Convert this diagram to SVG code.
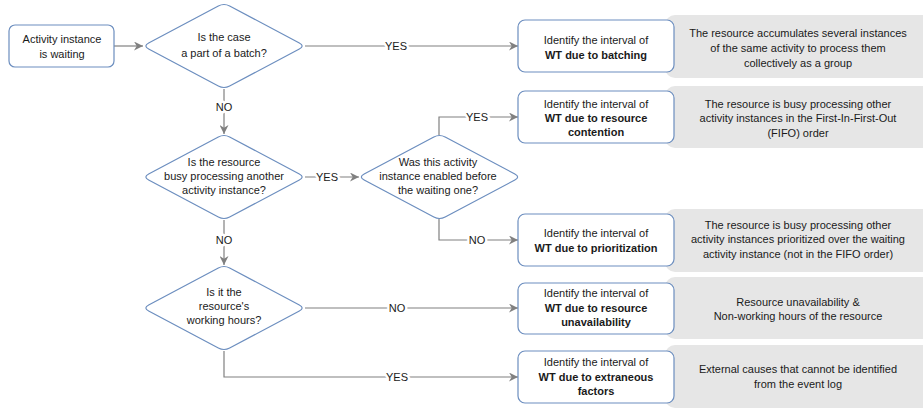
<svg xmlns="http://www.w3.org/2000/svg" xmlns:xlink="http://www.w3.org/1999/xlink" width="923" height="412" viewBox="0 0 923 412">
<style>
text{font-family:"Liberation Sans",Arial,Helvetica,sans-serif;font-size:11px;fill:#1a1a1a;text-anchor:middle}
.b{font-weight:bold}
.node{fill:#ffffff;stroke:#6c8ebf;stroke-width:1.2}
.note{fill:#e6e6e6;stroke:none}
.edge{fill:none;stroke:#808080;stroke-width:1.2}
.lbl{paint-order:stroke;stroke:#ffffff;stroke-width:5px;stroke-linejoin:round}
</style>
<defs>
<path id="dia" d="M -75.33,-3.01 L -5.67,-39.99 Q 0,-43 5.67,-39.99 L 75.33,-3.01 Q 81,0 75.33,3.01 L 5.67,39.99 Q 0,43 -5.67,39.99 L -75.33,3.01 Q -81,0 -75.33,-3.01 Z"/>
<marker id="arr" viewBox="0 0 10 10" refX="10" refY="5" markerWidth="9" markerHeight="9" markerUnits="userSpaceOnUse" orient="auto">
<path d="M0,0 L10,5 L0,10 L3,5 Z" fill="#808080"/>
</marker>
</defs>
<g id="notes">
<g id="note1"><rect class="note" x="665" y="15" width="268" height="63" rx="10"/>
<text x="798" y="37">The resource accumulates several instances</text><text x="798" y="52">of the same activity to process them</text><text x="798" y="67">collectively as a group</text></g>
<g id="note2"><rect class="note" x="665" y="86" width="268" height="62" rx="10"/>
<text x="798" y="108">The resource is busy processing other</text><text x="798" y="122">activity instances in the First-In-First-Out</text><text x="798" y="137">(FIFO) order</text></g>
<g id="note3"><rect class="note" x="665" y="209" width="268" height="63" rx="10"/>
<text x="798" y="229">The resource is busy processing other</text><text x="798" y="243">activity instances prioritized over the waiting</text><text x="798" y="258">activity instance (not in the FIFO order)</text></g>
<g id="note4"><rect class="note" x="665" y="277" width="268" height="62" rx="10"/>
<text x="798" y="306">Resource unavailability &amp;</text><text x="798" y="320">Non-working hours of the resource</text></g>
<g id="note5"><rect class="note" x="665" y="345" width="268" height="63" rx="10"/>
<text x="798" y="373">External causes that cannot be identified</text><text x="798" y="388">from the event log</text></g>
</g>
<g id="connectors">
<path class="edge" d="M114,46 L143,46" marker-end="url(#arr)"/>
<path class="edge" d="M305,46 L518,46" marker-end="url(#arr)"/>
<path class="edge" d="M224,89 L224,134" marker-end="url(#arr)"/>
<path class="edge" d="M305,177 L359,177" marker-end="url(#arr)"/>
<path class="edge" d="M439,135 L439,117 L518,117" marker-end="url(#arr)"/>
<path class="edge" d="M439,219 L439,240 L518,240" marker-end="url(#arr)"/>
<path class="edge" d="M224,220 L224,265" marker-end="url(#arr)"/>
<path class="edge" d="M305,308 L518,308" marker-end="url(#arr)"/>
<path class="edge" d="M224,351 L224,377 L518,377" marker-end="url(#arr)"/>
<text class="lbl" x="396" y="50">YES</text>
<text class="lbl" x="224" y="111">NO</text>
<text class="lbl" x="327" y="181">YES</text>
<text class="lbl" x="477" y="121">YES</text>
<text class="lbl" x="477" y="244">NO</text>
<text class="lbl" x="224" y="244">NO</text>
<text class="lbl" x="397" y="312">NO</text>
<text class="lbl" x="397" y="381">YES</text>
</g>
<g id="start"><rect class="node" x="9" y="25" width="105" height="42" rx="6"/>
<text x="62" y="43">Activity instance</text><text x="62" y="58">is waiting</text></g>
<g id="d1"><use href="#dia" class="node" transform="translate(224,46)"/>
<text x="224" y="41">Is the case</text><text x="224" y="57">a part of a batch?</text></g>
<g id="d2"><use href="#dia" class="node" transform="translate(224,177)"/>
<text x="224" y="166">Is the resource</text><text x="224" y="180">busy processing another</text><text x="224" y="194">activity instance?</text></g>
<g id="d3"><use href="#dia" class="node" transform="translate(439.5,177)"/>
<text x="438" y="166">Was this activity</text><text x="438" y="180">instance enabled before</text><text x="438" y="194">the waiting one?</text></g>
<g id="d4"><use href="#dia" class="node" transform="translate(224,308)"/>
<text x="224" y="296">Is it the</text><text x="224" y="310">resource's</text><text x="224" y="324">working hours?</text></g>
<g id="b1"><rect class="node" x="518" y="20" width="156" height="52" rx="7"/>
<text x="596" y="44">Identify the interval of</text><text class="b" x="596" y="59">WT due to batching</text></g>
<g id="b2"><rect class="node" x="518" y="91" width="156" height="52" rx="7"/>
<text x="596" y="108">Identify the interval of</text><text class="b" x="596" y="122">WT due to resource</text><text class="b" x="596" y="136">contention</text></g>
<g id="b3"><rect class="node" x="518" y="214" width="156" height="52" rx="7"/>
<text x="596" y="237">Identify the interval of</text><text class="b" x="596" y="252">WT due to prioritization</text></g>
<g id="b4"><rect class="node" x="518" y="283" width="156" height="51" rx="7"/>
<text x="596" y="297">Identify the interval of</text><text class="b" x="596" y="312">WT due to resource</text><text class="b" x="596" y="326">unavailability</text></g>
<g id="b5"><rect class="node" x="518" y="351" width="156" height="52" rx="7"/>
<text x="596" y="366">Identify the interval of</text><text class="b" x="596" y="381">WT due to extraneous</text><text class="b" x="596" y="395">factors</text></g>
</svg>
